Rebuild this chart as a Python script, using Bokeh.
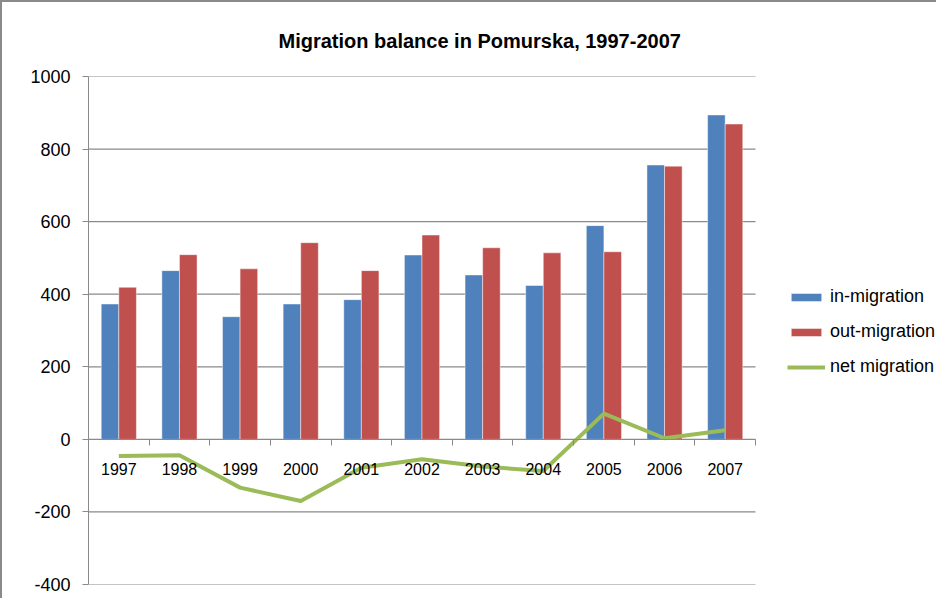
from bokeh.plotting import figure
from bokeh.models import ColumnDataSource, FixedTicker, Legend, LegendItem, Range1d
from bokeh.transform import dodge
from bokeh.embed import file_html
from bokeh.resources import INLINE

years = ["1997", "1998", "1999", "2000", "2001", "2002", "2003", "2004", "2005", "2006", "2007"]
in_migration = [373, 465, 338, 373, 385, 508, 453, 424, 589, 756, 894]
out_migration = [419, 509, 470, 542, 465, 563, 528, 514, 517, 753, 869]
net_migration = [-46, -44, -133, -170, -78, -55, -75, -87, 71, 3, 25]
y_ticks = [-400, -200, 0, 200, 400, 600, 800, 1000]

FONT = "Liberation Sans"
GRID = "#8a8a8a"

n = len(years)
pos = list(range(1, n + 1))
x_lo, x_hi = 0.5, n + 0.5
# plot area 667 px for the 11 years, extended to the right to hold the legend
x_end = x_lo + 848 * n / 667

src = ColumnDataSource(dict(pos=pos, year=years, inm=in_migration,
                            outm=out_migration, net=net_migration))

p = figure(frame_width=848, frame_height=508,
           x_range=Range1d(x_lo, x_end),
           y_range=Range1d(y_ticks[0], y_ticks[-1]),
           output_backend="svg", toolbar_location=None,
           min_border_left=86, min_border_right=0,
           min_border_top=74, min_border_bottom=14)
p.styles = {"border-top": "2px solid #8a8a8a", "border-left": "2px solid #8a8a8a"}

p.title.text = "Migration balance in Pomurska, 1997-2007"
p.title.align = "left"
p.title.offset = 190
p.title.standoff = 50
p.title.text_font = FONT
p.title.text_font_size = "20px"
p.title.text_font_style = "bold"
p.title.text_color = "black"

p.outline_line_color = None
p.background_fill_color = "white"
p.border_fill_color = "white"
p.xgrid.grid_line_color = None
p.ygrid.grid_line_color = None

# horizontal grid lines limited to the years' span
p.segment(x0=[x_lo] * len(y_ticks), x1=[x_hi] * len(y_ticks), y0=y_ticks, y1=y_ticks,
          line_color=GRID, line_width=1.2)

r_in = p.vbar(x=dodge("pos", -0.145, range=p.x_range), top="inm", bottom=0, width=0.29,
              source=src, fill_color="#4F81BD", line_color="white", line_alpha=0.45)
r_out = p.vbar(x=dodge("pos", 0.145, range=p.x_range), top="outm", bottom=0, width=0.29,
               source=src, fill_color="#C0504D", line_color="white", line_alpha=0.45)
r_net = p.line(x="pos", y="net", source=src, line_color="#9BBB59", line_width=4,
               line_join="round")

# y axis
p.yaxis.ticker = FixedTicker(ticks=y_ticks)
p.yaxis.major_label_overrides = {t: str(t) for t in y_ticks}
p.yaxis.axis_line_color = GRID
p.yaxis.major_tick_line_color = GRID
p.yaxis.major_tick_out = 6
p.yaxis.major_tick_in = 0
p.yaxis.minor_tick_line_color = None
p.yaxis.major_label_standoff = 12
p.yaxis.major_label_text_font = FONT
p.yaxis.major_label_text_font_size = "18px"
p.yaxis.major_label_text_color = "black"

# x axis at zero
p.xaxis.fixed_location = 0
p.xaxis.bounds = (x_lo, x_hi)
p.xaxis.ticker = FixedTicker(ticks=pos, minor_ticks=[x - 0.5 for x in pos] + [x_hi])
p.xaxis.major_label_overrides = {x: y for x, y in zip(pos, years)}
p.xaxis.axis_line_color = GRID
p.xaxis.axis_line_width = 1.2
p.xaxis.major_tick_line_color = None
p.xaxis.major_tick_out = 0
p.xaxis.major_tick_in = 0
p.xaxis.minor_tick_line_color = GRID
p.xaxis.minor_tick_out = 6
p.xaxis.minor_tick_in = 0
p.xaxis.major_label_standoff = 18
p.xaxis.major_label_text_font = FONT
p.xaxis.major_label_text_font_size = "16px"
p.xaxis.major_label_text_color = "black"

legend = Legend(items=[LegendItem(label="in-migration", renderers=[r_in]),
                       LegendItem(label="out-migration", renderers=[r_out]),
                       LegendItem(label="net migration", renderers=[r_net])],
                location=(699, 207), border_line_color=None, background_fill_alpha=0,
                padding=0, margin=0, spacing=14, glyph_width=38, glyph_height=10,
                label_standoff=5, label_text_font=FONT, label_text_font_size="18px",
                label_text_color="black")
p.add_layout(legend, "center")

open("out.html", "w").write(file_html(p, INLINE))
